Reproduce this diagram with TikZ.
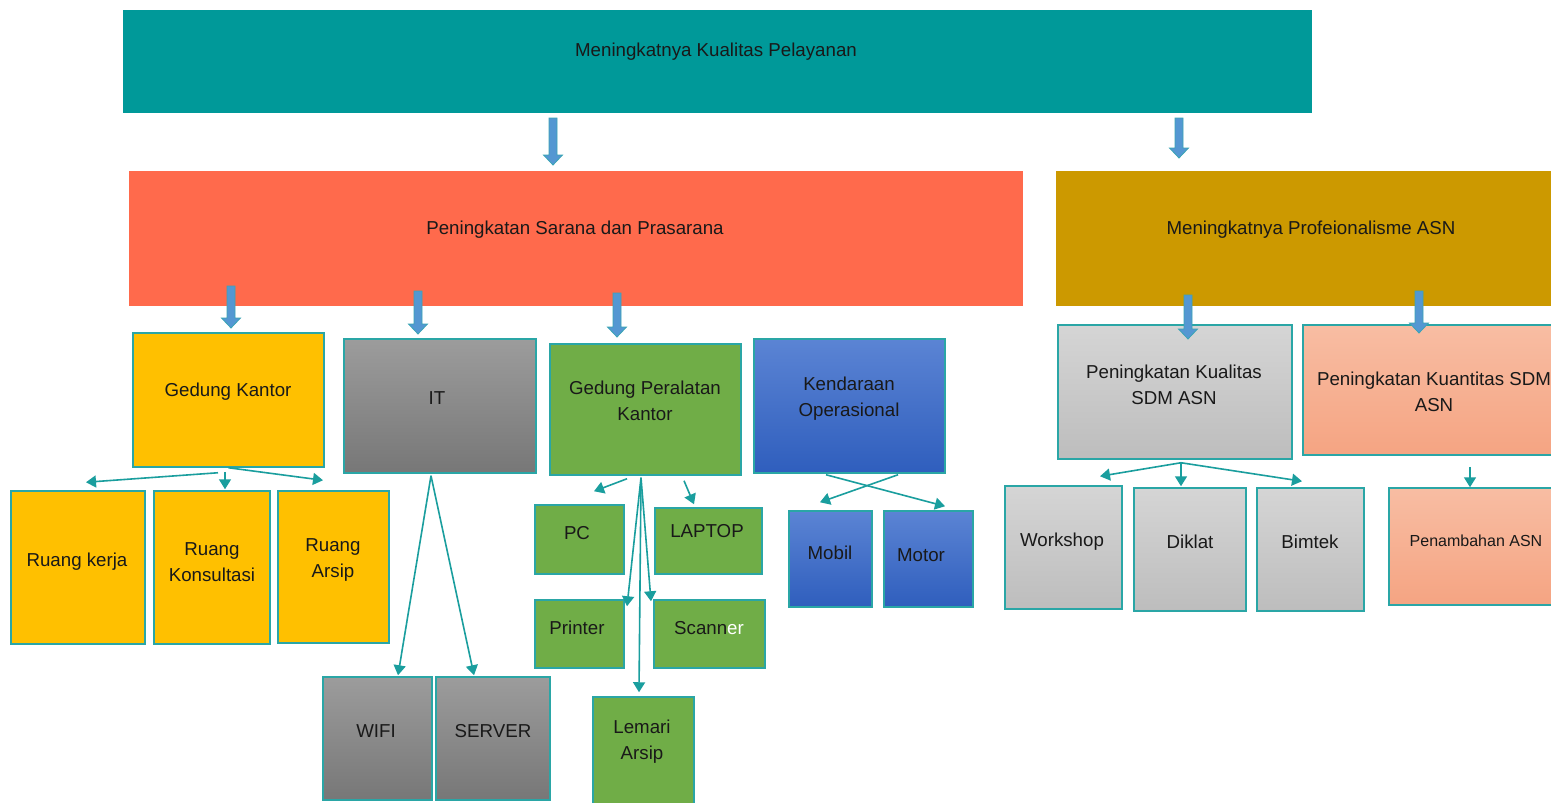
\documentclass[tikz,border=0pt]{standalone}
\usepackage{fontspec}
\setmainfont{Liberation Sans}
\usetikzlibrary{arrows.meta,calc}
\definecolor{cteal}{HTML}{009999}
\definecolor{csar}{HTML}{FF6A4C}
\definecolor{casn}{HTML}{CC9900}
\definecolor{cedge}{HTML}{2AA6A6}
\definecolor{cyel}{HTML}{FFC000}
\definecolor{cgrn}{HTML}{70AD47}
\definecolor{cgrayA}{HTML}{9C9C9C}
\definecolor{cgrayB}{HTML}{777777}
\definecolor{cblueA}{HTML}{5B84D4}
\definecolor{cblueB}{HTML}{2F5EBD}
\definecolor{clgA}{HTML}{D5D5D5}
\definecolor{clgB}{HTML}{BDBDBD}
\definecolor{csalA}{HTML}{F8BDA3}
\definecolor{csalB}{HTML}{F5A482}
\definecolor{carrfill}{HTML}{5497D2}
\definecolor{carredge}{HTML}{3AA5B5}
\definecolor{cline}{HTML}{1A9E9E}
\tikzset{
  plain/.style={rectangle,draw=none,inner sep=0pt},
  boxb/.style={rectangle,draw=cedge,line width=1.5pt,inner sep=0pt},
  yelbox/.style={boxb,fill=cyel},
  grnbox/.style={boxb,fill=cgrn},
  graybox/.style={boxb,top color=cgrayA,bottom color=cgrayB},
  bluebox/.style={boxb,top color=cblueA,bottom color=cblueB},
  lgbox/.style={boxb,top color=clgA,bottom color=clgB},
  salbox/.style={boxb,top color=csalA,bottom color=csalB},
  txt/.style={align=center,text=black!90,font=\fontsize{18.7}{26}\selectfont,inner sep=0pt,yshift=-2pt},
  smalltxt/.style={txt,font=\fontsize{16}{22}\selectfont},
  conn/.style={draw=cline,line width=1.6pt,-{Triangle[width=12pt,length=10pt]}},
  barrowst/.style={fill=carrfill,draw=carredge,line width=0.8pt}
}
\newcommand\bx[9]{%
  \node[#2,minimum width={(#5-#3)*1pt},minimum height={(#6-#4)*1pt}] (#1) at ({(#3+#5)/2},{(#4+#6)/2}) {};
  \node[txt] (#1-t) at (#7,#8) {#9};}
\newcommand\barrow[3]{%
  \filldraw[barrowst] ({#1-4},#2) -- ({#1+4},#2) -- ({#1+4},{#3-10}) -- ({#1+9.5},{#3-10}) -- (#1,#3) -- ({#1-9.5},{#3-10}) -- ({#1-4},{#3-10}) -- cycle;}
\begin{document}
\begin{tikzpicture}[x=1pt,y=-1pt]
\useasboundingbox (0,0) rectangle (1551,803);
\fill[white] (0,0) rectangle (1551,803);
% level 0 and 1
\bx{top}{plain,fill=cteal}{123}{10}{1312}{113}{716}{50}{Meningkatnya Kualitas Pelayanan}
\bx{sar}{plain,fill=csar}{129}{171}{1023}{306}{575}{228}{Peningkatan Sarana dan Prasarana}
\bx{asn}{plain,fill=casn}{1056}{171}{1565}{306}{1311}{228}{Meningkatnya Profeionalisme ASN}
% level 2
\bx{gk}{yelbox}{133}{333}{324}{467}{228}{390}{Gedung Kantor}
\bx{it}{graybox}{344}{339}{536}{473}{437}{396}{IT}
\bx{gpk}{grnbox}{550}{344}{741}{475}{645}{399}{Gedung Peralatan\\Kantor}
\bx{ko}{bluebox}{754}{339}{945}{473}{849}{397}{Kendaraan\\Operasional}
\bx{kual}{lgbox}{1058}{325}{1292}{459}{1174}{383}{Peningkatan Kualitas\\SDM ASN}
\bx{kuan}{salbox}{1303}{325}{1565}{455}{1434}{390}{Peningkatan Kuantitas SDM\\ASN}
% level 3
\bx{rk}{yelbox}{11}{491}{145}{644}{77}{560}{Ruang kerja}
\bx{rkon}{yelbox}{154}{491}{270}{644}{212}{560}{Ruang\\Konsultasi}
\bx{ra}{yelbox}{278}{491}{389}{643}{333}{558}{Ruang\\Arsip}
\bx{wifi}{graybox}{323}{677}{432}{800}{376}{729}{WIFI}
\bx{server}{graybox}{436}{677}{550}{800}{493}{729}{SERVER}
\bx{pc}{grnbox}{535}{505}{624}{574}{577}{531}{PC}
\bx{laptop}{grnbox}{655}{508}{762}{574}{707}{529}{LAPTOP}
\bx{printer}{grnbox}{535}{600}{624}{668}{577}{626}{Printer}
\bx{scanner}{grnbox}{654}{600}{765}{668}{709}{626}{Scann\textcolor{white}{er}}
\bx{lemari}{grnbox}{593}{697}{694}{815}{642}{740}{Lemari\\Arsip}
\bx{mobil}{bluebox}{789}{511}{872}{607}{830}{551}{Mobil}
\bx{motor}{bluebox}{884}{511}{973}{607}{921}{553}{Motor}
\bx{workshop}{lgbox}{1005}{486}{1122}{609}{1062}{540}{Workshop}
\bx{diklat}{lgbox}{1134}{488}{1246}{611}{1190}{540}{Diklat}
\bx{bimtek}{lgbox}{1257}{488}{1364}{611}{1310}{540}{Bimtek}
\node[salbox,minimum width=176pt,minimum height=117pt] (penamb) at (1477,546.5) {};
\node[smalltxt] (penamb-t) at (1476,539) {Penambahan ASN};
% block arrows
\barrow{553}{118}{165}
\barrow{1179}{118}{158}
\barrow{231}{286}{328}
\barrow{418}{291}{334}
\barrow{617}{293}{337}
\barrow{1188}{295}{339}
\barrow{1419}{291}{333}
% connectors
\draw[conn] ($(gk.south)+(-10.5,5)$) -- ($(rk.north)+(8,-8)$);
\draw[conn] ($(gk.south)+(-3.5,4)$) -- ($(rkon.north)+(13,-1)$);
\draw[conn] (gk.south) -- ($(ra.north)+(-10.5,-10)$);
\draw[conn] ($(it.south)+(-9,2)$) -- ($(wifi.north)+(20.5,-1)$);
\draw[conn] ($(it.south)+(-9,2)$) -- ($(server.north)+(-19,-1)$);
\draw[conn] ($(gpk.south)+(-18.5,3)$) -- ($(pc.north)+(14.5,-13)$);
\draw[conn] ($(gpk.south)+(38.5,5)$) -- ($(laptop.north)+(-14.5,-3)$);
\draw[conn] ($(gpk.south)+(-4.5,2)$) -- ($(printer.north)+(47.5,7)$);
\draw[conn] ($(gpk.south)+(-4.5,2)$) -- ($(scanner.north)+(-58.5,2)$);
\draw[conn] ($(gpk.south)+(-4.5,2)$) -- ($(lemari.north)+(-4.5,-4)$);
\draw[conn] ($(ko.south)+(48.5,1)$) -- ($(mobil.north)+(-10.5,-8)$);
\draw[conn] ($(ko.south)+(-23.5,1)$) -- ($(motor.north)+(16.5,-4)$);
\draw[conn] ($(kual.south)+(6,3)$) -- ($(workshop.north)+(36.5,-9)$);
\draw[conn] ($(kual.south)+(6,3)$) -- ($(diklat.north)+(-9,-1)$);
\draw[conn] ($(kual.south)+(6,3)$) -- ($(bimtek.north)+(-8.5,-6)$);
\draw[conn] ($(kuan.south)+(36,11)$) -- ($(penamb.north)+(-7,0)$);
\end{tikzpicture}
\end{document}
